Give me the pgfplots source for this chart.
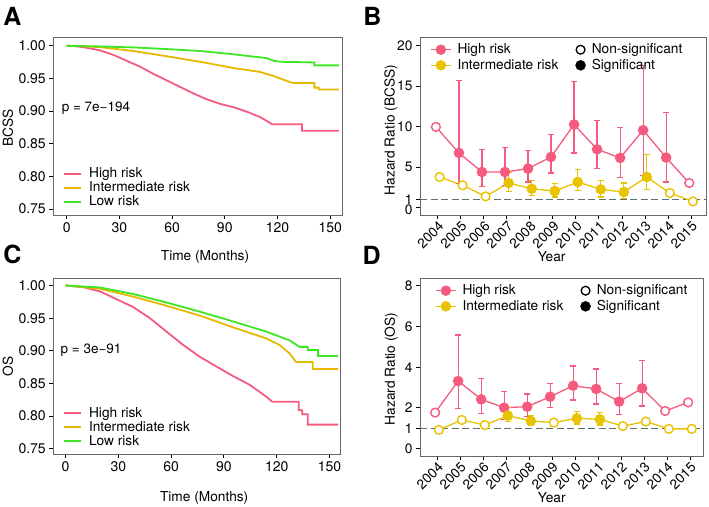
\documentclass[border=0pt]{standalone}
\usepackage{fontspec}
\setmainfont{TeX Gyre Heros}
\usepackage{pgfplots}
\usepackage{pgfplotstable}
\pgfplotsset{compat=1.18}

\definecolor{hi}{HTML}{F45B7E}
\definecolor{mid}{HTML}{E7B800}
\definecolor{midpt}{HTML}{E8C300}
\definecolor{lo}{HTML}{3EE626}
\definecolor{refl}{HTML}{5F6E6E}

% survival curves, months vs survival
\pgfplotstableread{
t s
0 1.000
5 0.9995
11.4 0.997
19 0.993
26.6 0.986
34.2 0.977
41.8 0.968
49.4 0.957
57 0.947
64.6 0.937
72.2 0.927
79.8 0.918
87.5 0.911
95 0.906
102.7 0.899
110 0.891
117 0.880
134 0.880
134 0.870
155 0.870
}\Ahigh
\pgfplotstableread{
t s
0 1.000
19 0.998
38 0.992
57 0.984
76 0.9755
95 0.966
110 0.960
118 0.9535
125.5 0.946
129 0.943
141 0.943
141 0.936
143.5 0.936
143.5 0.933
155 0.933
}\Amid
\pgfplotstableread{
t s
0 1.000
19 0.999
38 0.9975
57 0.995
76 0.992
95 0.987
114 0.981
118 0.977
122 0.9755
141 0.9745
141 0.970
155 0.970
}\Alow
\pgfplotstableread{
t s
0 1.000
10 0.9974
19.5 0.991
29 0.979
38.4 0.967
47.9 0.950
57.3 0.9295
66.8 0.909
76.2 0.891
85.7 0.876
95.1 0.8615
104.6 0.848
114 0.830
117.5 0.822
132.5 0.822
132.5 0.809
134.5 0.809
134.5 0.803
137.7 0.803
137.7 0.787
155 0.787
}\Chigh
\pgfplotstableread{
t s
0 1.000
19.5 0.995
38.4 0.983
57.3 0.969
76.2 0.954
95.1 0.936
114 0.919
121.6 0.909
127.3 0.896
131 0.883
140.5 0.883
140.5 0.872
155 0.872
}\Cmid
\pgfplotstableread{
t s
0 1.000
19.5 0.997
38.4 0.987
57.3 0.974
76.2 0.960
95.1 0.945
114 0.9295
127.3 0.916
133 0.906
137.7 0.906
137.7 0.901
143.5 0.901
143.5 0.892
155 0.892
}\Clow

% hazard ratios by year (i=0 is 2004), s=1 significant
\pgfplotstableread{
i y lo hi s
0 9.96 9.96 9.96 0
1 6.74 2.93 15.74 1
2 4.38 2.60 7.15 1
3 4.38 2.73 7.40 1
4 4.79 3.14 7.07 1
5 6.24 4.26 9.00 1
6 10.25 6.74 15.62 1
7 7.19 4.79 10.79 1
8 6.12 3.68 9.88 1
9 9.55 3.97 17.60 1
10 6.16 3.14 11.69 1
11 3.02 3.02 3.02 0
}\Bhigh
\pgfplotstableread{
i y lo hi s
0 3.76 3.76 3.76 0
1 2.73 2.73 2.73 0
2 1.36 1.36 1.36 0
3 3.02 1.98 4.38 1
4 2.31 1.49 3.35 1
5 2.02 1.28 2.93 1
6 3.14 2.11 4.67 1
7 2.23 1.28 3.35 1
8 1.90 1.07 3.02 1
9 3.76 2.19 6.53 1
10 1.78 1.78 1.78 0
11 0.74 0.74 0.74 0
}\Bmid
\pgfplotstableread{
i y lo hi s
0 1.77 1.77 1.77 0
1 3.32 1.98 5.58 1
2 2.42 1.73 3.45 1
3 2.01 1.44 2.80 1
4 2.06 1.57 2.68 1
5 2.55 2.01 3.21 1
6 3.09 2.39 4.06 1
7 2.93 2.19 3.91 1
8 2.31 1.69 3.21 1
9 2.96 2.09 4.32 1
10 1.85 1.85 1.85 0
11 2.27 2.27 2.27 0
}\Dhigh
\pgfplotstableread{
i y lo hi s
0 0.92 0.92 0.92 0
1 1.41 1.41 1.41 0
2 1.16 1.16 1.16 0
3 1.62 1.33 2.01 1
4 1.36 1.13 1.62 1
5 1.28 1.28 1.28 0
6 1.49 1.21 1.82 1
7 1.44 1.16 1.77 1
8 1.11 1.11 1.11 0
9 1.33 1.33 1.33 0
10 0.97 0.97 0.97 0
11 0.97 0.97 0.97 0
}\Dmid

\pgfplotsset{
  panel/.style={
    scale only axis, anchor=south west,
    axis line style={draw=black!60, line width=0.9pt},
    tick align=outside, tick pos=left,
    major tick length=4pt,
    tick style={black, line width=0.9pt},
    label style={font=\fontsize{13.7}{16}\selectfont},
    /pgf/number format/assume math mode=true,
  },
  survpanel/.style={
    panel,
    xtick={0,30,60,90,120,150},
    ytick={0.75,0.80,0.85,0.90,0.95,1.00},
    yticklabels={0.75,0.80,0.85,0.90,0.95,1.00},
    ticklabel style={font=\fontsize{14}{16}\selectfont},
    legend cell align=left,
    legend style={draw=none, fill=none, inner sep=0pt, anchor=south west,
      font=\fontsize{13.7}{16}\selectfont, row sep=-1.5pt,
      /tikz/every odd column/.append style={column sep=5pt}},
  },
  hrpanel/.style={
    panel,
    xtick={0,...,11},
    xticklabels={2004,2005,2006,2007,2008,2009,2010,2011,2012,2013,2014,2015},
    ticklabel style={font=\fontsize{13.7}{16}\selectfont},
    xticklabel style={rotate=45, anchor=north east, inner sep=1pt},
    legend columns=2, legend cell align=left,
    legend style={draw=none, fill=none, inner sep=0pt, anchor=north west,
      font=\fontsize{13.7}{16}\selectfont,
      /tikz/every odd column/.append style={column sep=4pt},
      /tikz/every even column/.append style={column sep=15pt}},
  },
  hrline/.style={#1, line width=1.3pt, forget plot},
  hrsig/.style={#1, line width=1.3pt, only marks, mark=*, mark size=4.6pt,
    mark options={fill=#1, draw=#1}, forget plot,
    error bars/y dir=both, error bars/y explicit,
    error bars/error bar style={#1, line width=1.2pt},
    error bars/error mark options={rotate=90, #1, line width=1.2pt, mark size=3pt}},
  hrns/.style={#1, only marks, mark=*, mark size=4.4pt,
    mark options={fill=white, draw=#1, line width=1.4pt}, forget plot},
}

\begin{document}
\begin{tikzpicture}
\useasboundingbox (0pt,0pt) rectangle (709pt,506pt);

% ---------------- A
\begin{axis}[survpanel, at={(53.3pt,291pt)}, width=289pt, height=177.7pt,
  xmin=-7.6, xmax=156.9, ymin=0.741, ymax=1.013,
  xlabel={Time (Months)}, ylabel={BCSS},
  xlabel style={at={(axis description cs:0.525,-0.236)}, anchor=center},
  ylabel style={at={(axis description cs:-0.157,0.49)}, anchor=center},
  legend style={at={(axis description cs:0.034,0.03)}},
  legend image code/.code={\draw[#1] (0pt,0pt) -- (17pt,0pt);},
]
\addplot[hi, line width=1.8pt] table[x=t, y=s] {\Ahigh};
\addlegendentry{High risk}
\addplot[mid, line width=1.8pt] table[x=t, y=s] {\Amid};
\addlegendentry{Intermediate risk}
\addplot[lo, line width=1.8pt] table[x=t, y=s] {\Alow};
\addlegendentry{Low risk}
\node[anchor=west, font=\fontsize{13.5}{16}\selectfont, inner sep=0pt] at (axis cs:-2.9,0.905) {p = 7e−194};
\end{axis}

% ---------------- C
\begin{axis}[survpanel, at={(53.3pt,52pt)}, width=287.4pt, height=175.7pt,
  xmin=-7.0, xmax=156.4, ymin=0.742, ymax=1.011,
  xlabel={Time (Months)}, ylabel={OS},
  xlabel style={at={(axis description cs:0.525,-0.25)}, anchor=center},
  ylabel style={at={(axis description cs:-0.158,0.5)}, anchor=center},
  legend style={at={(axis description cs:0.034,0.03)}},
  legend image code/.code={\draw[#1] (0pt,0pt) -- (17pt,0pt);},
]
\addplot[hi, line width=1.8pt] table[x=t, y=s] {\Chigh};
\addlegendentry{High risk}
\addplot[mid, line width=1.8pt] table[x=t, y=s] {\Cmid};
\addlegendentry{Intermediate risk}
\addplot[lo, line width=1.8pt] table[x=t, y=s] {\Clow};
\addlegendentry{Low risk}
\node[anchor=west, font=\fontsize{13.5}{16}\selectfont, inner sep=0pt] at (axis cs:-2.9,0.901) {p = 3e−91};
\end{axis}

% ---------------- B
\begin{axis}[hrpanel, at={(420pt,291pt)}, width=286.7pt, height=177.7pt,
  xmin=-0.77, xmax=11.68, ymin=-0.94, ymax=21.04,
  ytick={1,5,10,15,20},
  extra y ticks={0},
  extra y tick style={yticklabel style={yshift=-2.5pt}},
  xlabel={Year}, ylabel={Hazard Ratio (BCSS)},
  xlabel style={at={(axis description cs:0.459,-0.236)}, anchor=center},
  ylabel style={at={(axis description cs:-0.101,0.478)}, anchor=center},
  legend style={at={(axis description cs:0.035,0.975)}},
]
\addplot[refl, line width=1.2pt, dash pattern=on 7pt off 3.5pt, forget plot] coordinates {(-0.77,1) (11.68,1)};
\addplot[hrline=hi] table[x expr=\thisrow{i}-0.08, y=y] {\Bhigh};
\addplot[hrline=midpt] table[x expr=\thisrow{i}+0.08, y=y] {\Bmid};
\addplot[hrsig=hi, restrict expr to domain={\thisrow{s}}{1:1}] table[x expr=\thisrow{i}-0.08, y=y,
  y error plus expr=\thisrow{hi}-\thisrow{y}, y error minus expr=\thisrow{y}-\thisrow{lo}] {\Bhigh};
\addplot[hrns=hi, restrict expr to domain={\thisrow{s}}{0:0}] table[x expr=\thisrow{i}-0.08, y=y] {\Bhigh};
\addplot[hrsig=midpt, restrict expr to domain={\thisrow{s}}{1:1}] table[x expr=\thisrow{i}+0.08, y=y,
  y error plus expr=\thisrow{hi}-\thisrow{y}, y error minus expr=\thisrow{y}-\thisrow{lo}] {\Bmid};
\addplot[hrns=midpt, restrict expr to domain={\thisrow{s}}{0:0}] table[x expr=\thisrow{i}+0.08, y=y] {\Bmid};
\addlegendimage{legend image code/.code={\draw[hi, line width=1.3pt] (0pt,0pt) -- (20pt,0pt); \fill[hi] (10pt,0pt) circle (5pt);}}
\addlegendentry{High risk}
\addlegendimage{legend image code/.code={\draw[black, line width=1.3pt, fill=white] (0pt,0pt) circle (4.4pt);}}
\addlegendentry{Non-significant}
\addlegendimage{legend image code/.code={\draw[midpt, line width=1.3pt] (0pt,0pt) -- (20pt,0pt); \fill[midpt] (10pt,0pt) circle (5pt);}}
\addlegendentry{Intermediate risk}
\addlegendimage{legend image code/.code={\fill[black] (0pt,0pt) circle (5pt);}}
\addlegendentry{Significant}
\end{axis}

% ---------------- D
\begin{axis}[hrpanel, at={(420pt,50pt)}, width=283.3pt, height=177.7pt,
  xmin=-0.74, xmax=11.58, ymin=-0.36, ymax=8.36,
  ytick={0,1,2,4,6,8},
  xlabel={Year}, ylabel={Hazard Ratio (OS)},
  xlabel style={at={(axis description cs:0.465,-0.236)}, anchor=center},
  ylabel style={at={(axis description cs:-0.102,0.49)}, anchor=center},
  legend style={at={(axis description cs:0.053,0.975)}},
]
\addplot[refl, line width=1.2pt, dash pattern=on 7pt off 3.5pt, forget plot] coordinates {(-0.74,1) (11.58,1)};
\addplot[hrline=hi] table[x expr=\thisrow{i}-0.08, y=y] {\Dhigh};
\addplot[hrline=midpt] table[x expr=\thisrow{i}+0.08, y=y] {\Dmid};
\addplot[hrsig=hi, restrict expr to domain={\thisrow{s}}{1:1}] table[x expr=\thisrow{i}-0.08, y=y,
  y error plus expr=\thisrow{hi}-\thisrow{y}, y error minus expr=\thisrow{y}-\thisrow{lo}] {\Dhigh};
\addplot[hrns=hi, restrict expr to domain={\thisrow{s}}{0:0}] table[x expr=\thisrow{i}-0.08, y=y] {\Dhigh};
\addplot[hrsig=midpt, restrict expr to domain={\thisrow{s}}{1:1}] table[x expr=\thisrow{i}+0.08, y=y,
  y error plus expr=\thisrow{hi}-\thisrow{y}, y error minus expr=\thisrow{y}-\thisrow{lo}] {\Dmid};
\addplot[hrns=midpt, restrict expr to domain={\thisrow{s}}{0:0}] table[x expr=\thisrow{i}+0.08, y=y] {\Dmid};
\addlegendimage{legend image code/.code={\draw[hi, line width=1.3pt] (0pt,0pt) -- (20pt,0pt); \fill[hi] (10pt,0pt) circle (5pt);}}
\addlegendentry{High risk}
\addlegendimage{legend image code/.code={\draw[black, line width=1.3pt, fill=white] (0pt,0pt) circle (4.4pt);}}
\addlegendentry{Non-significant}
\addlegendimage{legend image code/.code={\draw[midpt, line width=1.3pt] (0pt,0pt) -- (20pt,0pt); \fill[midpt] (10pt,0pt) circle (5pt);}}
\addlegendentry{Intermediate risk}
\addlegendimage{legend image code/.code={\fill[black] (0pt,0pt) circle (5pt);}}
\addlegendentry{Significant}
\end{axis}

% panel letters
\node[font=\fontsize{25}{25}\selectfont\bfseries] at (12.5pt,490pt) {A};
\node[font=\fontsize{25}{25}\selectfont\bfseries] at (372.5pt,490pt) {B};
\node[font=\fontsize{25}{25}\selectfont\bfseries] at (12.5pt,252pt) {C};
\node[font=\fontsize{25}{25}\selectfont\bfseries] at (371.7pt,251pt) {D};
\end{tikzpicture}
\end{document}
